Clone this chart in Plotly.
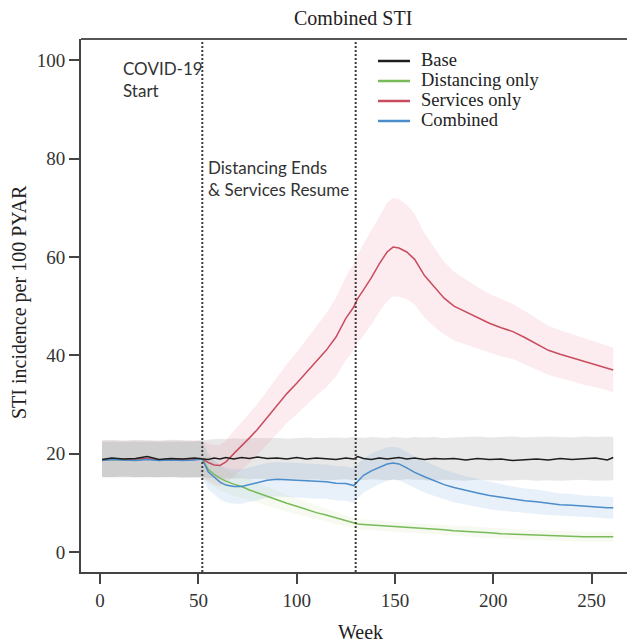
import plotly.graph_objects as go

# ---------------- data ----------------
weeks = [1, 6, 12, 18, 24, 30, 36, 42, 48,
         52, 55, 58, 61, 64, 68, 72, 76, 80,
         85, 90, 95, 100, 105, 110, 115, 120, 125,
         129, 131, 134, 138, 142, 146, 149, 152, 156,
         160, 165, 170, 175, 180, 186, 192, 198, 204,
         210, 216, 222, 228, 234, 240, 246, 252, 258,
         261]

base = [18.8, 19.1, 18.9, 19.0, 19.4, 18.8, 19.0, 18.9, 19.1,
        19.0, 18.8, 19.1, 18.9, 19.2, 18.9, 19.2, 19.0, 19.3,
        19.0, 19.1, 18.9, 19.2, 18.9, 19.1, 19.0, 18.8, 19.1,
        18.9, 19.4, 19.0, 18.8, 19.1, 18.9, 19.0, 19.2, 18.9,
        19.1, 18.8, 19.0, 18.9, 19.0, 18.7, 19.0, 18.8, 18.9,
        18.6, 18.7, 18.9, 18.7, 19.0, 18.8, 18.9, 19.1, 18.7,
        19.2]
base_lo = [15.3, 15.2, 15.4, 15.2, 15.3, 15.2, 15.3, 15.1, 15.2,
           15.2, 15.0, 15.1, 14.9, 15.0, 14.9, 15.0, 14.8, 14.9,
           14.8, 14.9, 14.7, 14.8, 14.7, 14.8, 14.6, 14.7, 14.8,
           14.6, 14.7, 14.6, 14.8, 14.7, 14.6, 14.7, 14.6, 14.8,
           14.7, 14.6, 14.5, 14.7, 14.6, 14.5, 14.7, 14.6, 14.5,
           14.6, 14.7, 14.5, 14.6, 14.5, 14.6, 14.7, 14.5, 14.6,
           14.6]
base_hi = [22.7, 22.8, 22.6, 22.8, 22.7, 22.6, 22.8, 22.7, 22.6,
           22.7, 22.8, 22.9, 23.0, 22.9, 23.1, 23.0, 23.1, 23.2,
           23.1, 23.2, 23.0, 23.2, 23.3, 23.1, 23.2, 23.3, 23.2,
           23.4, 23.3, 23.2, 23.4, 23.3, 23.2, 23.4, 23.3, 23.2,
           23.4, 23.3, 23.4, 23.2, 23.3, 23.4, 23.5, 23.3, 23.4,
           23.5, 23.3, 23.4, 23.5, 23.4, 23.3, 23.5, 23.4, 23.5,
           23.4]

dist = [18.7, 18.8, 18.7, 18.8, 18.9, 18.7, 18.8, 18.7, 18.8,
        18.9, 16.8, 15.8, 15.0, 14.4, 13.8, 13.3, 12.6, 12.0,
        11.3, 10.6, 9.9, 9.3, 8.6, 8.0, 7.5, 6.9, 6.3,
        5.9, 5.7, 5.6, 5.5, 5.3, 5.2, 5.1, 5.0, 4.9,
        4.8, 4.7, 4.6, 4.5, 4.3, 4.2, 4.0, 3.9, 3.7,
        3.6, 3.5, 3.4, 3.3, 3.3, 3.2, 3.1, 3.1, 3.1,
        3.1]
dist_lo = [15.2, 15.2, 15.2, 15.2, 15.2, 15.2, 15.2, 15.2, 15.2,
           15.2, 14.0, 13.2, 12.5, 12.0, 11.5, 11.1, 10.5, 10.0,
           9.4, 8.8, 8.2, 7.7, 7.1, 6.6, 6.2, 5.7, 5.2,
           4.8, 4.6, 4.6, 4.5, 4.3, 4.2, 4.1, 4.0, 3.9,
           3.8, 3.7, 3.6, 3.5, 3.3, 3.2, 3.0, 2.9, 2.7,
           2.6, 2.5, 2.4, 2.3, 2.3, 2.2, 2.1, 2.1, 2.1,
           2.1]
dist_hi = [22.4, 22.4, 22.4, 22.4, 22.4, 22.4, 22.4, 22.4, 22.4,
           22.6, 19.6, 18.4, 17.5, 16.8, 16.1, 15.5, 14.7, 14.0,
           13.2, 12.4, 11.6, 10.9, 10.1, 9.4, 8.8, 8.1, 7.4,
           7.0, 6.8, 6.6, 6.5, 6.3, 6.2, 6.1, 6.0, 5.9,
           5.8, 5.7, 5.6, 5.5, 5.3, 5.2, 5.0, 4.9, 4.7,
           4.6, 4.5, 4.4, 4.3, 4.3, 4.2, 4.1, 4.1, 4.1,
           4.1]

serv = [18.7, 18.9, 18.8, 18.9, 19.0, 18.7, 18.9, 18.8, 18.9,
        18.9, 18.2, 17.7, 17.6, 18.3, 20.0, 21.5, 23.2, 24.9,
        27.3, 29.8, 32.2, 34.3, 36.5, 38.9, 41.0, 43.7, 47.5,
        49.8, 51.5, 53.3, 55.8, 58.6, 61.0, 62.0, 61.8, 61.0,
        59.5, 56.2, 53.8, 51.6, 50.0, 48.8, 47.6, 46.5, 45.6,
        44.8, 43.6, 42.3, 41.0, 40.2, 39.5, 38.7, 38.1, 37.4,
        37.0]
serv_lo = [15.2, 15.2, 15.2, 15.2, 15.2, 15.2, 15.2, 15.2, 15.2,
           15.2, 14.4, 13.7, 13.4, 13.9, 15.4, 16.7, 18.2, 19.7,
           21.8, 24.0, 26.2, 28.0, 29.8, 31.8, 33.5, 35.7, 39.0,
           41.0, 42.5, 44.0, 46.2, 48.8, 51.0, 52.0, 51.9, 51.4,
           50.3, 47.6, 45.8, 44.2, 43.0, 42.2, 41.3, 40.5, 39.8,
           39.2, 38.2, 37.1, 36.0, 35.3, 34.7, 34.0, 33.5, 32.9,
           32.5]
serv_hi = [22.6, 22.6, 22.6, 22.6, 22.6, 22.6, 22.6, 22.6, 22.6,
           22.6, 22.0, 21.7, 21.8, 22.7, 24.6, 26.3, 28.2, 30.1,
           32.8, 35.6, 38.2, 40.6, 43.2, 46.0, 48.5, 51.7, 56.0,
           58.6, 60.5, 62.6, 65.4, 68.4, 71.0, 72.0, 71.7, 70.6,
           68.7, 64.8, 61.8, 59.0, 57.0, 55.4, 53.9, 52.5, 51.4,
           50.4, 49.0, 47.5, 46.0, 45.1, 44.3, 43.4, 42.7, 41.9,
           41.5]

comb = [18.6, 18.8, 18.7, 18.6, 18.8, 18.6, 18.7, 18.6, 18.7,
        18.9, 16.3, 15.2, 14.2, 13.6, 13.3, 13.3, 13.7, 14.0,
        14.6, 14.8, 14.7, 14.6, 14.5, 14.3, 14.3, 14.0, 13.9,
        13.5, 14.4, 15.6, 16.5, 17.2, 17.9, 18.1, 17.9, 17.1,
        16.2, 15.3, 14.5, 13.7, 13.1, 12.5, 12.0, 11.5, 11.1,
        10.7, 10.4, 10.2, 9.9, 9.6, 9.5, 9.3, 9.2, 9.0,
        9.0]
comb_lo = [15.2, 15.2, 15.2, 15.2, 15.2, 15.2, 15.2, 15.2, 15.2,
           15.2, 12.7, 11.7, 10.7, 10.1, 9.8, 9.8, 10.2, 10.5,
           11.1, 11.3, 11.2, 11.1, 11.0, 10.8, 10.8, 10.5, 10.4,
           10.0, 10.9, 12.1, 13.0, 13.8, 14.5, 14.8, 14.6, 13.8,
           13.0, 12.1, 11.4, 10.7, 10.1, 9.6, 9.1, 8.7, 8.4,
           8.1, 7.9, 7.7, 7.5, 7.3, 7.2, 7.1, 7.0, 6.8,
           6.8]
comb_hi = [22.4, 22.4, 22.4, 22.4, 22.4, 22.4, 22.4, 22.4, 22.4,
           22.6, 19.9, 18.7, 17.7, 17.1, 16.8, 16.8, 17.2, 17.5,
           18.1, 18.3, 18.2, 18.1, 18.0, 17.8, 17.8, 17.5, 17.4,
           17.0, 17.9, 19.1, 20.0, 20.6, 21.3, 21.4, 21.2, 20.4,
           19.4, 18.5, 17.6, 16.7, 16.1, 15.4, 14.9, 14.3, 13.8,
           13.3, 12.9, 12.7, 12.3, 11.9, 11.8, 11.5, 11.4, 11.2,
           11.2]

series_names = ["Base", "Distancing only", "Services only", "Combined"]
x_ticks = [0, 50, 100, 150, 200, 250]
y_ticks = [0, 20, 40, 60, 80, 100]
event_weeks = [52, 130]
event_labels = ["COVID-19<br>Start", "Distancing Ends<br>& Services Resume"]

# ---------------- styling ----------------
line_colors = {"Base": "#1e1e1e", "Distancing only": "#78bb58",
               "Services only": "#c84c5e", "Combined": "#4b8cca"}
band_colors = {"Base": "rgba(150,150,150,0.22)",
               "Distancing only": "rgba(170,210,120,0.10)",
               "Services only": "rgba(235,110,135,0.13)",
               "Combined": "rgba(110,170,225,0.16)"}
SERIF = "Liberation Serif, Times New Roman, serif"
SANS = "Lato, Open Sans, sans-serif"

# plot area in pixels
L, R, T, B = 81, 627, 39, 572
W, H = 627, 642


def px(xp):
    return (xp - L) / (R - L)


def py(yp):
    return (B - yp) / (B - T)


fig = go.Figure()

data = {
    "Base": (base, base_lo, base_hi),
    "Distancing only": (dist, dist_lo, dist_hi),
    "Services only": (serv, serv_lo, serv_hi),
    "Combined": (comb, comb_lo, comb_hi),
}

# bands
for name in ["Base", "Services only", "Combined", "Distancing only"]:
    mid, lo, hi = data[name]
    fig.add_trace(go.Scatter(
        x=weeks + weeks[::-1], y=hi + lo[::-1], fill="toself",
        fillcolor=band_colors[name], line=dict(width=0),
        mode="lines", hoverinfo="skip", showlegend=False))

# lines
for name in ["Distancing only", "Services only", "Combined", "Base"]:
    mid, lo, hi = data[name]
    fig.add_trace(go.Scatter(
        x=weeks, y=mid, mode="lines", name=name,
        line=dict(color=line_colors[name], width=1.5),
        showlegend=False))

shapes = []
for wk in event_weeks:
    shapes.append(dict(type="line", xref="x", yref="paper", x0=wk, x1=wk,
                       y0=0, y1=1, line=dict(color="#3a3a3a", width=2, dash="2px,2px")))
# top frame line
shapes.append(dict(type="line", xref="paper", yref="paper", x0=0, x1=1,
                   y0=1, y1=1, line=dict(color="#555555", width=2)))

annotations = []
# event labels
annotations.append(dict(x=px(121), y=py(56), xref="paper", yref="paper",
                        text=event_labels[0], showarrow=False, xanchor="left",
                        yanchor="top", align="left",
                        font=dict(family=SANS, size=17, color="#333333")))
annotations.append(dict(x=px(206), y=py(155), xref="paper", yref="paper",
                        text=event_labels[1], showarrow=False, xanchor="left",
                        yanchor="top", align="left",
                        font=dict(family=SANS, size=17, color="#333333")))

# manual legend
legend_rows = [61, 81, 101, 121]
for name, yr in zip(series_names, legend_rows):
    shapes.append(dict(type="line", xref="paper", yref="paper",
                       x0=px(378), x1=px(410), y0=py(yr), y1=py(yr),
                       line=dict(color=line_colors[name], width=2.5)))
    annotations.append(dict(x=px(419), y=py(yr - 1), xref="paper", yref="paper",
                            text=name, showarrow=False, xanchor="left",
                            yanchor="middle",
                            font=dict(family=SERIF, size=18.5, color="#222222")))

# titles
annotations.append(dict(x=px(353), y=py(18), xref="paper", yref="paper",
                        text="Combined STI", showarrow=False,
                        xanchor="center", yanchor="middle",
                        font=dict(family=SERIF, size=20, color="#222222")))
annotations.append(dict(x=px(360), y=py(632), xref="paper", yref="paper",
                        text="Week", showarrow=False,
                        xanchor="center", yanchor="middle",
                        font=dict(family=SERIF, size=20, color="#222222")))
annotations.append(dict(x=px(19), y=py(302), xref="paper", yref="paper",
                        text="STI incidence per 100 PYAR", showarrow=False,
                        textangle=-90, xanchor="center", yanchor="middle",
                        font=dict(family=SERIF, size=20, color="#222222")))

fig.update_layout(
    width=W, height=H,
    margin=dict(l=L, r=W - R, t=T, b=H - B, pad=0),
    paper_bgcolor="white", plot_bgcolor="white",
    showlegend=False,
    shapes=shapes, annotations=annotations,
    xaxis=dict(range=[-9.7, 268], tickvals=x_ticks, ticks="outside",
               ticklen=10, tickwidth=2, tickcolor="#444444",
               showline=True, linecolor="#444444", linewidth=2,
               showgrid=False, zeroline=False,
               tickfont=dict(family=SERIF, size=19, color="#333333")),
    yaxis=dict(range=[-4.07, 104.3], tickvals=y_ticks, ticks="outside",
               ticklen=10, tickwidth=2, tickcolor="#444444",
               showline=True, linecolor="#444444", linewidth=2,
               showgrid=False, zeroline=False,
               tickfont=dict(family=SERIF, size=19, color="#333333")),
)

fig.write_html("out.html")
